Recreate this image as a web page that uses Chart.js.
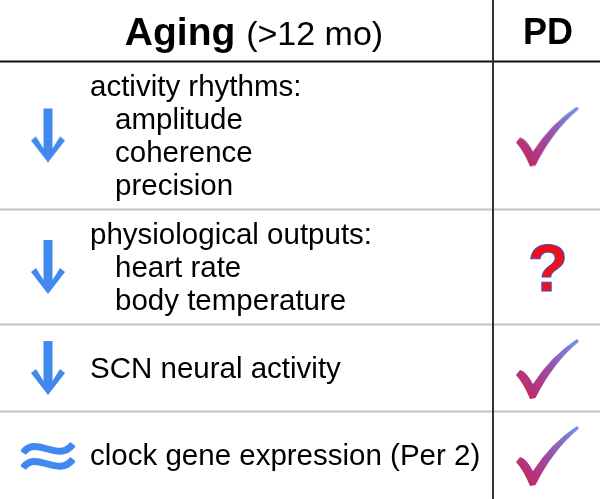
<!DOCTYPE html>
<html>
<head>
<meta charset="utf-8">
<script src="https://cdn.jsdelivr.net/npm/chart.js@4"></script>
<style>
  html, body { margin: 0; padding: 0; background: #fff; }
  #wrap { width: 600px; height: 499px; }
</style>
</head>
<body>
<div id="wrap"><canvas id="ChartAgingPD"></canvas></div>
<script>
// table content
var columnTitles = ['Aging', 'PD'];
var agingQualifier = '(>12 mo)';
var rowTitles = [
    'activity rhythms:',
    'physiological outputs:',
    'SCN neural activity',
    'clock gene expression (Per 2)'
];
var rowItems = [
    ['amplitude', 'coherence', 'precision'],
    ['heart rate', 'body temperature'],
    [],
    []
];
var agingTrend = ['decrease', 'decrease', 'decrease', 'unchanged'];
var pdEvidence = ['yes', 'unclear', 'yes', 'yes'];

var FONT = "'Liberation Sans', Arial, sans-serif";
var blue = '#4189ee';

// layout (in scale units = px)
var headerH = 61.5;
var lineH = 33;
var splitX = 493;
var agingIconX = 48;
var pdX = 548;
var rowEdges = [headerH];
rowTitles.forEach(function (t, i) {
    var h = Math.max(87, (1 + rowItems[i].length) * lineH + 16);
    rowEdges.push(rowEdges[i] + h);
});
var rowCenters = rowTitles.map(function (t, i) {
    return (rowEdges[i] + rowEdges[i + 1]) / 2;
});

function makeCanvas(w, h) {
    var c = document.createElement('canvas');
    c.width = w; c.height = h;
    return c;
}

// icons used as point styles
function arrowIcon() {
    var c = makeCanvas(34, 56), g = c.getContext('2d');
    g.fillStyle = blue;
    g.beginPath();
    g.moveTo(12.5, 1); g.lineTo(21.5, 1); g.lineTo(21.5, 41);
    g.lineTo(29, 29); g.lineTo(34, 33); g.lineTo(17, 55);
    g.lineTo(0, 33); g.lineTo(5, 29); g.lineTo(12.5, 41);
    g.closePath();
    g.fill();
    return c;
}
function approxIcon() {
    var c = makeCanvas(54, 36), g = c.getContext('2d');
    g.strokeStyle = blue;
    g.lineWidth = 7;
    [11, 26].forEach(function (y) {
        g.beginPath();
        g.moveTo(2, y + 5);
        g.bezierCurveTo(14, y - 14, 38, y + 16, 52, y - 4);
        g.stroke();
    });
    return c;
}
function checkIcon() {
    var c = makeCanvas(66, 62), g = c.getContext('2d');
    var grad = g.createLinearGradient(8, 58, 62, 2);
    grad.addColorStop(0, '#c42560');
    grad.addColorStop(0.5, '#9a4fa6');
    grad.addColorStop(1, '#6f93ea');
    g.fillStyle = grad;
    g.beginPath();
    g.moveTo(1, 36);
    g.lineTo(5, 31);
    g.quadraticCurveTo(11, 32, 18, 45);
    g.quadraticCurveTo(36, 17, 62, 0);
    g.lineTo(64, 2.5);
    g.quadraticCurveTo(38, 24, 20.5, 59);
    g.lineTo(15, 60);
    g.quadraticCurveTo(9, 45, 1, 36);
    g.closePath();
    g.fill();
    return c;
}
function questionIcon() {
    var c = makeCanvas(50, 64), g = c.getContext('2d');
    g.font = 'bold 66px ' + FONT;
    g.textAlign = 'center';
    g.textBaseline = 'alphabetic';
    g.fillStyle = '#f01018';
    g.fillText('?', 25, 56);
    g.strokeStyle = '#3b4cc0';
    g.lineWidth = 1;
    g.strokeText('?', 25, 56);
    return c;
}

var icons = {
    decrease: arrowIcon(),
    unchanged: approxIcon(),
    yes: checkIcon(),
    unclear: questionIcon()
};

var tablePlugin = {
    id: 'tableText',
    beforeDatasetsDraw: function (chart) {
        var ctx = chart.ctx, xs = chart.scales.x, ys = chart.scales.y;
        var X = function (v) { return xs.getPixelForValue(v); };
        var Y = function (v) { return ys.getPixelForValue(v); };
        ctx.save();

        // row separators
        ctx.strokeStyle = '#c4c4c4';
        ctx.lineWidth = 2;
        for (var i = 1; i < rowEdges.length - 1; i++) {
            ctx.beginPath();
            ctx.moveTo(X(0), Y(rowEdges[i]));
            ctx.lineTo(X(600), Y(rowEdges[i]));
            ctx.stroke();
        }
        // header line
        ctx.strokeStyle = '#111';
        ctx.beginPath();
        ctx.moveTo(X(0), Y(headerH));
        ctx.lineTo(X(600), Y(headerH));
        ctx.stroke();
        // column split
        ctx.strokeStyle = '#333';
        ctx.beginPath();
        ctx.moveTo(X(splitX), Y(0));
        ctx.lineTo(X(splitX), Y(499));
        ctx.stroke();

        // header
        ctx.fillStyle = '#000';
        ctx.textBaseline = 'alphabetic';
        ctx.textAlign = 'left';
        var boldF = 'bold 39px ' + FONT, regF = '34px ' + FONT;
        ctx.font = boldF;
        var w1 = ctx.measureText(columnTitles[0] + ' ').width;
        ctx.font = regF;
        var w2 = ctx.measureText(agingQualifier).width;
        var hx = X(254) - (w1 + w2) / 2;
        ctx.font = boldF;
        ctx.fillText(columnTitles[0], hx, Y(45));
        ctx.font = regF;
        ctx.fillText(agingQualifier, hx + w1, Y(45));
        ctx.font = 'bold 36px ' + FONT;
        ctx.textAlign = 'center';
        ctx.fillText(columnTitles[1], X(pdX), Y(44));

        // row text
        ctx.textAlign = 'left';
        ctx.font = '29.5px ' + FONT;
        rowTitles.forEach(function (title, r) {
            var lines = [title].concat(rowItems[r]);
            var top = rowCenters[r] - (lines.length - 1) / 2 * lineH + 10;
            lines.forEach(function (txt, k) {
                ctx.fillText(txt, X(k === 0 ? 90 : 115), Y(top + k * lineH));
            });
        });
        ctx.restore();
    }
};

new Chart(document.getElementById('ChartAgingPD'), {
    type: 'scatter',
    data: {
        datasets: [
            {
                label: columnTitles[0],
                data: agingTrend.map(function (t, i) { return { x: agingIconX, y: rowCenters[i] }; }),
                pointStyle: agingTrend.map(function (t) { return icons[t]; })
            },
            {
                label: columnTitles[1],
                data: pdEvidence.map(function (t, i) { return { x: pdX, y: rowCenters[i] + (t === 'yes' ? 2 : 0) }; }),
                pointStyle: pdEvidence.map(function (t) { return icons[t]; })
            }
        ]
    },
    options: {
        responsive: true,
        maintainAspectRatio: false,
        animation: false,
        events: [],
        layout: { padding: 0, autoPadding: false },
        scales: {
            x: { type: 'linear', min: 0, max: 600, display: false },
            y: { type: 'linear', min: 0, max: 499, reverse: true, display: false }
        },
        plugins: {
            legend: { display: false },
            tooltip: { enabled: false }
        }
    },
    plugins: [tablePlugin]
});
</script>
</body>
</html>
